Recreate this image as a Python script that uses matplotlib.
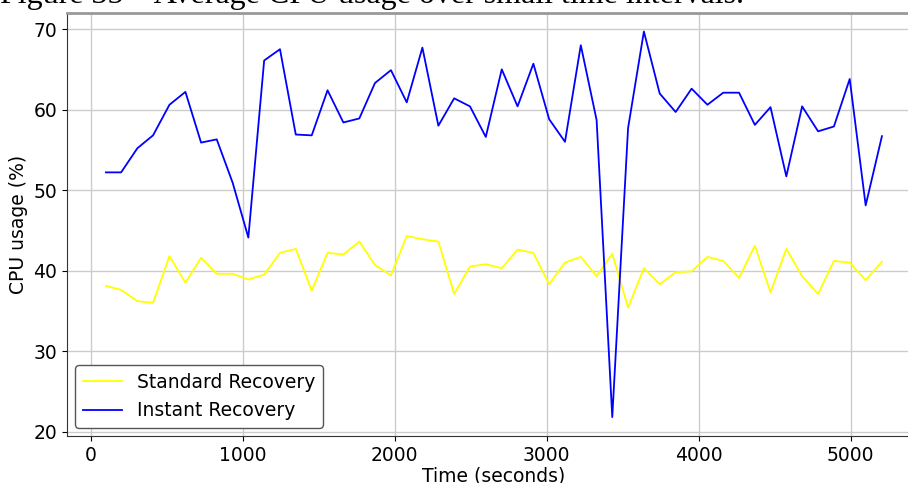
import matplotlib
matplotlib.use("Agg")
import matplotlib.pyplot as plt

# time of each sample (seconds)
times = [100, 200, 307, 410, 518, 623, 726, 829, 934, 1037,
         1141, 1245, 1349, 1454, 1558, 1662, 1767, 1870, 1975, 2079,
         2182, 2287, 2391, 2495, 2599, 2704, 2808, 2912, 3016, 3120,
         3224, 3328, 3431, 3535, 3639, 3743, 3848, 3953, 4057, 4161,
         4265, 4369, 4472, 4576, 4680, 4785, 4889, 4993, 5098, 5205]

standard = [38.1, 37.6, 36.2, 36.0, 41.8, 38.5, 41.6, 39.6, 39.6, 38.9,
            39.5, 42.2, 42.7, 37.5, 42.2, 42.0, 43.6, 40.7, 39.4, 44.3,
            43.9, 43.6, 37.1, 40.5, 40.8, 40.3, 42.6, 42.2, 38.3, 41.0,
            41.7, 39.3, 42.1, 35.4, 40.3, 38.3, 39.8, 39.9, 41.7, 41.2,
            39.1, 43.1, 37.3, 42.7, 39.3, 37.1, 41.2, 41.0, 38.8, 41.1]

instant = [52.2, 52.2, 55.2, 56.8, 60.6, 62.2, 55.9, 56.3, 50.9, 44.1,
           66.1, 67.5, 56.9, 56.8, 62.4, 58.4, 58.9, 63.3, 64.9, 60.9,
           67.7, 58.0, 61.4, 60.4, 56.6, 65.0, 60.4, 65.7, 58.8, 56.0,
           68.0, 58.7, 21.8, 57.7, 69.7, 62.0, 59.7, 62.6, 60.6, 62.1,
           62.1, 58.1, 60.3, 51.7, 60.4, 57.3, 57.9, 63.8, 48.1, 56.7]

fig = plt.figure(figsize=(9.08, 4.83), dpi=100)
ax = fig.add_axes([67 / 908, 47 / 483, 854 / 908, 423 / 483])

ax.plot(times, standard, color='yellow', linewidth=1.3, label='Standard Recovery')
ax.plot(times, instant, color='blue', linewidth=1.3, label='Instant Recovery')

ax.set_xlim(-156, 5462)
ax.set_ylim(19.45, 72.0)
ax.set_xticks([0, 1000, 2000, 3000, 4000, 5000])
ax.set_yticks([20, 30, 40, 50, 60, 70])
ax.grid(True, color='#cccccc', linewidth=1)
ax.set_axisbelow(True)
ax.tick_params(labelsize=13.5)
ax.set_xlabel('Time (seconds)', fontsize=13.5, labelpad=1)
ax.set_ylabel('CPU usage (%)', fontsize=13.5)

ax.spines['top'].set_color('#999999')
ax.spines['top'].set_linewidth(2)
ax.spines['left'].set_color('#333333')
ax.spines['bottom'].set_color('#333333')

ax.legend(loc='lower left', fontsize=13.5, edgecolor='#555555', framealpha=1,
          borderaxespad=0.45, handlelength=2.1)

# caption of the document page, cut off at the top
fig.text(0.0, 1 - 2.5 / 483, 'Figure 35 \u2013 Average CPU usage over small time intervals.',
         family='Liberation Serif', fontsize=23, va='baseline', ha='left')

fig.savefig('out.png', dpi=100)
